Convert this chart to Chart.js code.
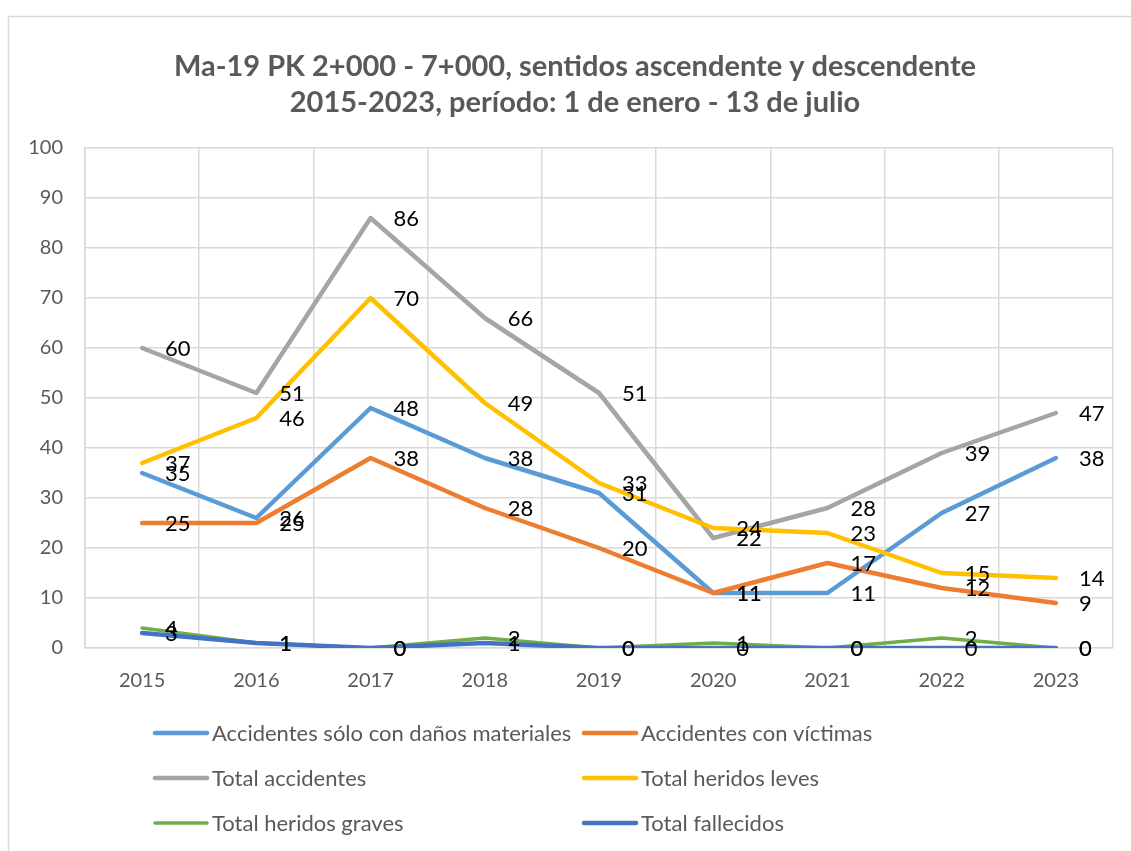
<!DOCTYPE html>
<html>
<head>
<meta charset="utf-8">
<script src="https://cdn.jsdelivr.net/npm/chart.js@4.4.0/dist/chart.umd.min.js"></script>
<style>
  html, body { margin: 0; padding: 0; background: #fff; }
  #wrap { width: 1131px; height: 851px; position: relative; }
</style>
</head>
<body>
<div id="wrap"><canvas id="myChart" width="1131" height="851"></canvas></div>
<script>
const years = ["2015", "2016", "2017", "2018", "2019", "2020", "2021", "2022", "2023"];

const danosMateriales = [35, 26, 48, 38, 31, 11, 11, 27, 38];
const conVictimas = [25, 25, 38, 28, 20, 11, 17, 12, 9];
const totalAccidentes = [60, 51, 86, 66, 51, 22, 28, 39, 47];
const heridosLeves = [37, 46, 70, 49, 33, 24, 23, 15, 14];
const heridosGraves = [4, 1, 0, 2, 0, 1, 0, 2, 0];
const fallecidos = [3, 1, 0, 1, 0, 0, 0, 0, 0];

const titleLines = [
  "Ma-19 PK 2+000 - 7+000, sentidos ascendente y descendente",
  "2015-2023, período: 1 de enero - 13 de julio"
];

const FONT = "Lato, 'Open Sans', sans-serif";
const GREY_TEXT = "#595959";
const GRID = "#d9d9d9";

function serie(label, values, color, width, i) {
  return {
    label: label,
    data: values,
    borderColor: color,
    backgroundColor: color,
    borderWidth: width,
    pointRadius: 0,
    pointHoverRadius: 0,
    tension: 0,
    borderCapStyle: "round",
    borderJoinStyle: "round",
    fill: false,
    order: 6 - i
  };
}

const data = {
  labels: years,
  datasets: [
    serie("Accidentes sólo con daños materiales", danosMateriales, "#5B9BD5", 4.5, 0),
    serie("Accidentes con víctimas", conVictimas, "#ED7D31", 4.5, 1),
    serie("Total accidentes", totalAccidentes, "#A5A5A5", 4.5, 2),
    serie("Total heridos leves", heridosLeves, "#FFC000", 4.5, 3),
    serie("Total heridos graves", heridosGraves, "#70AD47", 3.5, 4),
    serie("Total fallecidos", fallecidos, "#4472C4", 4.5, 5)
  ]
};

// frame + title
const framePlugin = {
  id: "frame",
  beforeDraw(chart) {
    const ctx = chart.ctx;
    ctx.save();
    ctx.fillStyle = "#fff";
    ctx.fillRect(0, 0, chart.width, chart.height);
    ctx.strokeStyle = GRID;
    ctx.lineWidth = 1.5;
    ctx.strokeRect(8.5, 16.5, 1300, 1000);
    ctx.fillStyle = GREY_TEXT;
    ctx.font = "bold 29px " + FONT;
    ctx.textAlign = "center";
    ctx.textBaseline = "alphabetic";
    ctx.fillText(titleLines[0], 575, 76);
    ctx.fillText(titleLines[1], 575, 112);
    ctx.restore();
  }
};

// value labels to the right of each point
const labelsPlugin = {
  id: "valueLabels",
  afterDatasetsDraw(chart) {
    const ctx = chart.ctx;
    ctx.save();
    ctx.fillStyle = "#000";
    ctx.font = "22px " + FONT;
    ctx.textAlign = "left";
    ctx.textBaseline = "middle";
    chart.data.datasets.forEach((ds, i) => {
      const meta = chart.getDatasetMeta(i);
      meta.data.forEach((pt, j) => {
        ctx.fillText(String(ds.data[j]), pt.x + 23, pt.y + 1);
      });
    });
    ctx.restore();
  }
};

// two-column legend like the original
const legendPlugin = {
  id: "sideLegend",
  afterDraw(chart) {
    const ctx = chart.ctx;
    const colX = [153, 582];
    const rowY = [733, 778, 823];
    ctx.save();
    ctx.font = "22px " + FONT;
    ctx.textBaseline = "middle";
    ctx.textAlign = "left";
    chart.data.datasets.forEach((ds, i) => {
      const x = colX[i % 2];
      const y = rowY[Math.floor(i / 2)];
      ctx.strokeStyle = ds.borderColor;
      ctx.lineWidth = ds.borderWidth;
      ctx.lineCap = "round";
      ctx.beginPath();
      ctx.moveTo(x + 2, y);
      ctx.lineTo(x + 54, y);
      ctx.stroke();
      ctx.fillStyle = GREY_TEXT;
      ctx.fillText(ds.label, x + 59, y + 1);
    });
    ctx.restore();
  }
};

const config = {
  type: "line",
  data: data,
  options: {
    responsive: false,
    animation: false,
    layout: {
      padding: { top: 148, left: 0, right: 18, bottom: 143 }
    },
    plugins: {
      legend: { display: false },
      title: { display: false },
      tooltip: { enabled: false }
    },
    scales: {
      x: {
        offset: true,
        grid: { offset: true, color: GRID, lineWidth: 1.5, drawTicks: false },
        border: { color: GRID, width: 1.5 },
        ticks: { color: GREY_TEXT, font: { family: FONT, size: 20 }, padding: 21 },
        afterFit(scale) { scale.height = 60; }
      },
      y: {
        min: 0,
        max: 100,
        grid: { color: GRID, lineWidth: 1.5, drawTicks: false },
        border: { color: GRID, width: 1.5 },
        ticks: { stepSize: 10, color: GREY_TEXT, font: { family: FONT, size: 20 }, padding: 22 },
        afterFit(scale) { scale.width = 85; }
      }
    }
  },
  plugins: [framePlugin, labelsPlugin, legendPlugin]
};

const myChart = new Chart(document.getElementById("myChart"), config);
</script>
</body>
</html>
